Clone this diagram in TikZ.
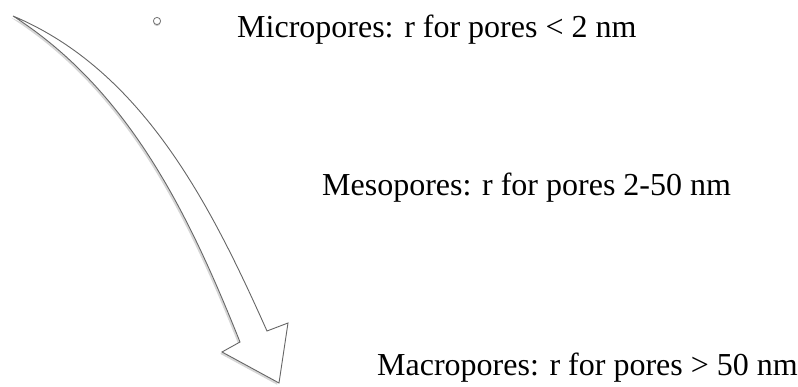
\documentclass[tikz,border=0pt]{standalone}
\usepackage{fontspec}
\setmainfont{Liberation Serif}
\usetikzlibrary{shadows}
\tikzset{
  lbl/.style={anchor=base west, inner sep=0pt, font=\fontsize{32}{38}\selectfont},
  bigarrow/.style={draw=black!60, line width=0.9pt, fill=white, line join=miter,
    drop shadow={shadow xshift=-1.8pt, shadow yshift=-1.8pt, opacity=0.16, fill=black}},
  dot/.style={draw=black!55, line width=0.8pt, fill=white,
    drop shadow={shadow xshift=0pt, shadow yshift=-1.5pt, opacity=0.2, fill=black}}
}
\begin{document}
\begin{tikzpicture}[x=1pt, y=-1pt]
\useasboundingbox (0,0) rectangle (798,387);
\path[bigarrow]
  (13,16) .. controls (144,71) and (212,208) .. (267,331)
  -- (288,323) -- (279,383) -- (222,352) -- (240,342)
  .. controls (190,217) and (130,91) .. (13,16)
  -- cycle;
\path[dot] (157,21) circle (3.6);
\node[lbl] (micro) at (237,38) {Micropores: r for pores {\textless} 2 nm};
\node[lbl] (meso) at (322,196) {Mesopores: r for pores 2-50 nm};
\node[lbl] (macro) at (377,375) {Macropores: r for pores {\textgreater} 50 nm};
\end{tikzpicture}
\end{document}
